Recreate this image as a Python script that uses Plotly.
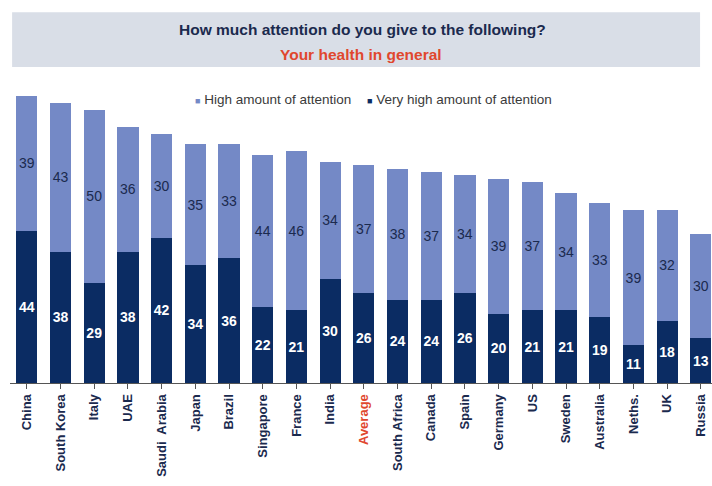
import plotly.graph_objects as go

# Survey answers, % of respondents per country
countries = ["China", "South Korea", "Italy", "UAE", "Saudi  Arabia", "Japan", "Brazil",
             "Singapore", "France", "India", "Average", "South Africa", "Canada", "Spain",
             "Germany", "US", "Sweden", "Australia", "Neths.", "UK", "Russia"]
very_high = [44, 38, 29, 38, 42, 34, 36, 22, 21, 30, 26, 24, 24, 26, 20, 21, 21, 19, 11, 18, 13]
high = [39, 43, 50, 36, 30, 35, 33, 44, 46, 34, 37, 38, 37, 34, 39, 37, 34, 33, 39, 32, 30]
series_names = ["High amount of attention", "Very high amount of attention"]

DARK = "#0b2c63"
LIGHT = "#7489c6"
NAVY_TEXT = "#1b2a4e"
RED = "#e0472e"
FONT = "Liberation Sans"

x_idx = list(range(len(countries)))
tick_text = [
    f'<span style="color:{RED if c == "Average" else NAVY_TEXT}"><b>{c}</b></span>'
    for c in countries
]

fig = go.Figure()
fig.add_trace(go.Bar(
    x=x_idx, y=very_high, name=series_names[1],
    marker=dict(color=DARK, line=dict(width=0)),
    text=very_high, textposition="inside", insidetextanchor="middle", textangle=0,
    textfont=dict(color="white", size=14, family=FONT, weight="bold"),
))
fig.add_trace(go.Bar(
    x=x_idx, y=high, name=series_names[0],
    marker=dict(color=LIGHT, line=dict(width=0)),
    text=high, textposition="inside", insidetextanchor="middle", textangle=0,
    textfont=dict(color=NAVY_TEXT, size=14, family=FONT),
))


def legend_entry(label, color, x):
    return dict(
        text=f'<span style="color:{color};font-size:9px">■</span> {label}',
        xref="paper", yref="paper", x=x, y=0.937, showarrow=False,
        xanchor="left", yanchor="middle",
        font=dict(size=13.5, color="#3a3a3a", family=FONT),
    )


fig.update_layout(
    width=712, height=486,
    margin=dict(l=10, r=0, t=80, b=103),
    barmode="stack", bargap=0.37,
    uniformtext=dict(minsize=14, mode="show"),
    paper_bgcolor="white", plot_bgcolor="white",
    font=dict(family=FONT, color="#333333"),
    showlegend=False,
    xaxis=dict(
        tickmode="array", tickvals=x_idx, ticktext=tick_text,
        tickangle=-90, tickfont=dict(size=13, family=FONT),
        range=[-0.5, 20.33], showgrid=False, zeroline=False,
        showline=True, linecolor="#555555", linewidth=1,
        ticks="outside", tickson="boundaries", ticklen=5, tickcolor="#555555",
    ),
    yaxis=dict(range=[0, 87.6], visible=False),
    shapes=[dict(
        type="rect", xref="paper", yref="paper",
        x0=0.003, x1=0.983, y0=1.043, y1=1.224,
        fillcolor="#d9dee7", line=dict(width=0), layer="below",
    )],
    annotations=[
        dict(text="<b>How much attention do you give to the following?</b>",
             xref="paper", yref="paper", x=0.502, y=1.167, showarrow=False,
             font=dict(size=15.5, color=NAVY_TEXT, family=FONT),
             xanchor="center", yanchor="middle"),
        dict(text="<b>Your health in general</b>",
             xref="paper", yref="paper", x=0.5, y=1.085, showarrow=False,
             font=dict(size=15.5, color=RED, family=FONT),
             xanchor="center", yanchor="middle"),
        legend_entry(series_names[0], LIGHT, 0.2607),
        legend_entry(series_names[1], DARK, 0.5057),
    ],
)

fig.write_html("out.html")
